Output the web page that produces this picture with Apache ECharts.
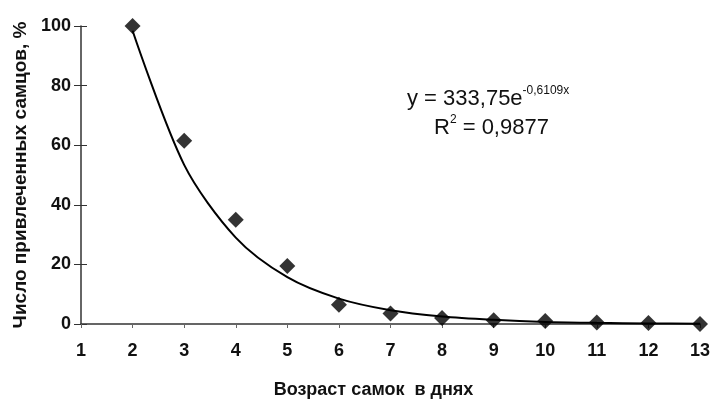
<!DOCTYPE html>
<html>
<head>
<meta charset="utf-8">
<script src="https://cdn.jsdelivr.net/npm/echarts@6/dist/echarts.min.js"></script>
<style>
  html, body { margin: 0; padding: 0; background: #fff; }
  #chart { width: 715px; height: 401px; }
</style>
</head>
<body>
<div id="chart"></div>
<script>
// возраст самок (дни) и число привлечённых самцов, %
var days = [2, 3, 4, 5, 6, 7, 8, 9, 10, 11, 12, 13];
var males = [100, 61.5, 35, 19.5, 6.5, 3.5, 2, 1.3, 1, 0.5, 0.3, 0];
// значения линии тренда
var trendValues = [98.4, 53.4, 29, 15.7, 8.5, 4.6, 2.5, 1.4, 0.7, 0.4, 0.2, 0.1];

var font = "'Liberation Sans', Arial, sans-serif";

var chart = echarts.init(document.getElementById("chart"));
var option = {
    animation: false,
    backgroundColor: "#fff",
    textStyle: {fontFamily: font},
    grid: {left: 81, right: 15, top: 26, bottom: 77, outerBoundsMode: "none", containLabel: false},
    xAxis: {
        type: "value",
        min: 1,
        max: 13,
        interval: 1,
        name: "Возраст самок  в днях",
        nameLocation: "middle",
        nameGap: 57,
        nameTextStyle: {fontSize: 18, fontWeight: "bold", color: "#111", fontFamily: font, padding: [0, 34, 0, 0]},
        axisLine: {lineStyle: {color: "#333", width: 1.5}},
        axisTick: {show: true, length: 4, lineStyle: {color: "#666"}},
        axisLabel: {fontSize: 18, fontWeight: "bold", color: "#111", margin: 18, fontFamily: font},
        splitLine: {show: false}
    },
    yAxis: [
        {
            type: "value",
            min: 0,
            max: 100,
            interval: 20,
            name: "Число привлеченных самцов, %",
            nameLocation: "middle",
            nameGap: 46,
            nameTextStyle: {fontSize: 19, fontWeight: "bold", color: "#111", fontFamily: font},
            axisLine: {show: true, lineStyle: {color: "#333", width: 1.5}},
            axisTick: {show: true, length: 7, lineStyle: {color: "#333"}},
            axisLabel: {fontSize: 18, fontWeight: "bold", color: "#111", margin: 10, fontFamily: font},
            splitLine: {show: false}
        },
        {
            // правая половина «крестовых» делений на оси Y
            type: "value",
            position: "left",
            min: 0,
            max: 100,
            interval: 20,
            axisLine: {show: false},
            axisTick: {show: true, inside: true, length: 6, lineStyle: {color: "#333"}},
            axisLabel: {show: false},
            splitLine: {show: false}
        }
    ],
    series: [
        {
            name: "trend",
            type: "line",
            smooth: 0.3,
            symbol: "none",
            lineStyle: {color: "#000", width: 2},
            data: days.map(function (d, i) { return [d, trendValues[i]]; }),
            z: 2
        },
        {
            name: "data",
            type: "scatter",
            symbol: "diamond",
            symbolSize: 16,
            itemStyle: {color: "#000"},
            data: days.map(function (d, i) { return [d, males[i]]; }),
            z: 3
        }
    ],
    graphic: [
        {
            type: "text",
            left: 407,
            top: 85,
            style: {
                text: "{b|y = 333,75e}{s|-0,6109x}",
                rich: {
                    b: {fontSize: 22, fontFamily: font, fill: "#111", verticalAlign: "bottom"},
                    s: {fontSize: 12, fontFamily: font, fill: "#111", verticalAlign: "top", padding: [0, 0, 13, 0]}
                }
            }
        },
        {
            type: "text",
            left: 434,
            top: 114,
            style: {
                text: "{b|R}{s|2}{b| = 0,9877}",
                rich: {
                    b: {fontSize: 22, fontFamily: font, fill: "#111", verticalAlign: "bottom"},
                    s: {fontSize: 12, fontFamily: font, fill: "#111", verticalAlign: "top", padding: [0, 0, 13, 0]}
                }
            }
        }
    ]
};
chart.setOption(option);
</script>
</body>
</html>
